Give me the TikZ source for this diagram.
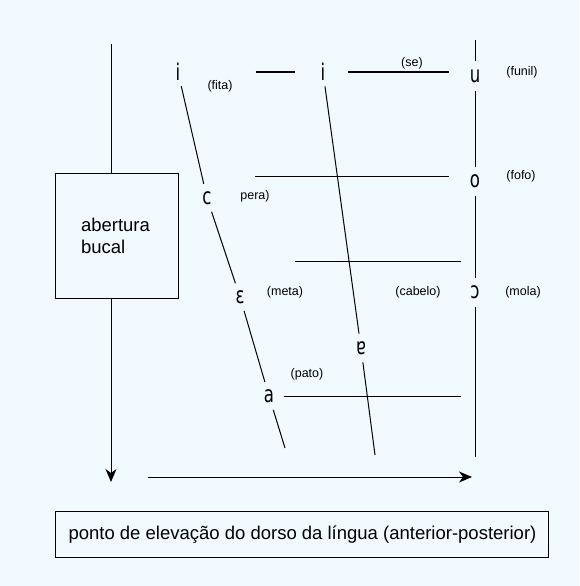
\documentclass[tikz,border=0pt]{standalone}
\usepackage{fontspec}
\setmainfont{Liberation Sans}
\newfontfamily\ipafont{DejaVu Sans}
\usetikzlibrary{arrows.meta,calc}
\definecolor{paper}{RGB}{240,250,255}
\tikzset{>={Stealth[length=13pt,width=11pt,inset=4pt]}}
\newcommand{\vw}[1]{\scalebox{0.72}[1]{#1}}

\begin{document}
\begin{tikzpicture}[x=1pt, y=-1pt, line width=1pt,
	vowel/.style={circle, inner sep=0pt, minimum size=28pt, font=\ipafont\fontsize{23}{23}\selectfont},
	word/.style={inner sep=0pt, font=\fontsize{12.5}{14}\selectfont},
	bigbox/.style={draw, anchor=north west, font=\fontsize{18.5}{22}\selectfont}]
		\fill[paper] (0,0) rectangle (579,586);
		\useasboundingbox (0,0) rectangle (579,586);

		% the vowels
		\node[vowel] (iL) at (178,72) {\vw{i}};
		\node[vowel] (iM) at (323,72) {\vw{i}};
		\node[vowel] (u) at (475,76) {\vw{u}};
		\node[vowel] (c) at (207,198) {\vw{c}};
		\node[vowel] (o) at (475,181) {\vw{o}};
		\node[vowel] (eps) at (240,297) {\vw{ɛ}};
		\node[vowel] (opo) at (475,292) {\vw{ɔ}};
		\node[vowel] (turna) at (361,348) {\vw{ɐ}};
		\node[vowel] (a) at (269,396) {\vw{a}};

		% the words
		\node[word] (fita) at (220,86) {(fita)};
		\node[word] (se) at (412,63) {(se)};
		\node[word] (funil) at (522,72) {(funil)};
		\node[word] (pera) at (255,196) {pera)};
		\node[word] (fofo) at (521,176) {(fofo)};
		\node[word] (meta) at (285,292) {(meta)};
		\node[word] (cabelo) at (418,292) {(cabelo)};
		\node[word] (mola) at (523,292) {(mola)};
		\node[word] (pato) at (307,374) {(pato)};

		% boxes
		\node[bigbox, minimum width=123pt, minimum height=125pt, align=left, text width=72pt, inner xsep=25.5pt] (mouth) at (55,173) {abertura\\bucal};
		\node[bigbox, minimum width=493pt, minimum height=46pt, inner xsep=13pt] (tongue) at (55,511) {\makebox[467pt][l]{ponto de elevação do dorso da língua (anterior-posterior)}};

		% helpers
		\coordinate (mouthtop) at (111,44);
		\coordinate (mouthbot) at (111,482);
		\coordinate (tongueL) at (148,477);
		\coordinate (tongueR) at (472,477);
		\coordinate (backtop) at (475,40);
		\coordinate (backbot) at (475,457);
		\coordinate (frontbot) at (285,448);
		\coordinate (centbot) at (375,455);
		\coordinate (feL) at (255,176);
		\coordinate (opL) at (295,261);

		% axes
		\draw (mouthtop) -- (mouthtop |- mouth.north);
		\draw[->] (mouthtop |- mouth.south) -- (mouthbot);
		\draw[->] (tongueL) -- (tongueR);

		% slanted and vertical lines
		\draw (iL) -- (c) -- (eps) -- (a) -- (frontbot);
		\draw (iM) -- (turna) -- (centbot);
		\draw (backtop) -- (u) -- (o) -- (opo) -- (backbot);

		% height lines
		\draw[shorten <=63pt, shorten >=14pt] (iL) -- (iM);
		\draw[shorten <=10pt, shorten >=26pt] (iM) -- (iM -| u);
		\draw[shorten >=26pt] (feL) -- (feL -| o);
		\draw[shorten >=14pt] (opL) -- (opL -| o);
		\draw[shorten >=14pt] (a) -- (a -| o);
\end{tikzpicture}
\end{document}
